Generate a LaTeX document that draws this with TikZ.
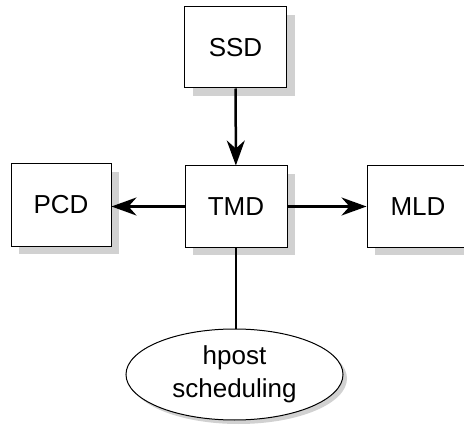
\documentclass[tikz,border=0pt]{standalone}
\usepackage{fontspec}
\setmainfont{Liberation Sans}
\usetikzlibrary{arrows.meta,shapes.geometric,shadows}
\begin{document}
\begin{tikzpicture}[x=1pt,y=-1pt,
  box/.style={draw=black,line width=1pt,fill=white,minimum width=102pt,minimum height=81pt,inner sep=0pt,
    font=\fontsize{26}{32}\selectfont,
    drop shadow={shadow xshift=8pt,shadow yshift=-8pt,fill=black!18,opacity=1}},
  oval/.style={ellipse,draw=black,line width=1pt,fill=white,minimum width=217pt,minimum height=91pt,inner sep=0pt,
    align=center,font=\fontsize{26}{33}\selectfont,
    drop shadow={shadow xshift=4pt,shadow yshift=-4pt,fill=black!18,opacity=1}},
  conn/.style={line width=2.5pt},
  arr/.style={conn,-{Stealth[length=25pt,width=18pt,inset=8pt]}}]
\useasboundingbox (0,0) rectangle (464,428);
\node[box] (ssd) at (235.5,47.5) {SSD};
\node[box] (tmd) at (236,206.5) {TMD};
\node[box,minimum width=100pt,minimum height=82pt] (pcd) at (61,205) {PCD};
\node[box] (mld) at (418,206.5) {MLD};
\node[oval] (hp) at (234.5,374.5) {hpost\\scheduling};
\draw[arr] (ssd) -- (tmd);
\draw[arr] (tmd) -- (tmd.west -| pcd.east);
\draw[arr] (tmd) -- (tmd.east -| mld.west);
\draw[conn] (tmd.south) -- (tmd.south |- hp.north);
\end{tikzpicture}
\end{document}
